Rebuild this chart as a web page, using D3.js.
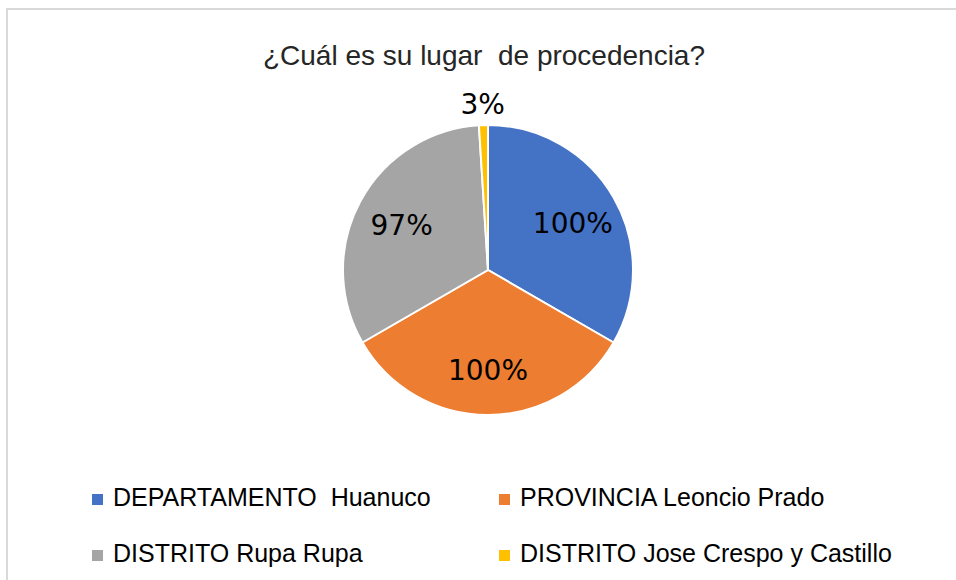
<!DOCTYPE html>
<html>
<head>
<meta charset="utf-8">
<script src="https://cdn.jsdelivr.net/npm/d3@7"></script>
<style>
  html, body { margin: 0; padding: 0; background: #fff; }
  svg { display: block; }
  text { white-space: pre; }
</style>
</head>
<body>
<div id="chart"></div>
<script>
const categories = ["DEPARTAMENTO  Huanuco", "PROVINCIA Leoncio Prado", "DISTRITO Rupa Rupa", "DISTRITO Jose Crespo y Castillo"]
const values = [100, 100, 97, 3]
const labels = ["100%", "100%", "97%", "3%"]
const colors = ["#4472C4", "#ED7D31", "#A5A5A5", "#FFC000"]
const title = "¿Cuál es su lugar  de procedencia?"

const width = 956
const height = 580
const cx = 488, cy = 270, radius = 145

const svg = d3.select('#chart').append('svg')
    .attr('width', width)
    .attr('height', height)

// chart frame (only top/left edges visible in the crop)
svg.append('rect')
    .attr('x', 7).attr('y', 9)
    .attr('width', width + 20).attr('height', height + 20)
    .attr('fill', '#fff')
    .attr('stroke', '#d9d9d9')
    .attr('stroke-width', 2)

svg.append('text')
    .attr('x', 484).attr('y', 65)
    .attr('text-anchor', 'middle')
    .style('font-family', 'Liberation Sans, Arial, sans-serif')
    .style('font-size', '28px')
    .attr('fill', '#262626')
    .text(title)

const pie = d3.pie().sort(null).value(d => d)
const arcs = pie(values)
const arc = d3.arc().innerRadius(0).outerRadius(radius)
const labelArc = d3.arc().innerRadius(98).outerRadius(98)
const outArc = d3.arc().innerRadius(168).outerRadius(168)

const g = svg.append('g')
    .attr('transform', 'translate(' + cx + ',' + cy + ')')

g.selectAll('path')
    .data(arcs)
    .join('path')
    .attr('d', arc)
    .attr('fill', (d, i) => colors[i])
    .attr('stroke', '#fff')
    .attr('stroke-width', 2)

// small slices get their label outside
g.selectAll('text.lbl')
    .data(arcs)
    .join('text')
    .attr('class', 'lbl')
    .attr('transform', d => {
        const small = (d.endAngle - d.startAngle) < 0.3
        return 'translate(' + (small ? outArc : labelArc).centroid(d) + ')'
    })
    .attr('text-anchor', 'middle')
    .attr('dy', '0.42em')
    .style('font-family', 'DejaVu Sans, sans-serif')
    .style('font-size', '28px')
    .attr('fill', '#000')
    .text((d, i) => labels[i])

// legend 2 columns
const legend = svg.append('g')
const cols = [92, 499]
const rows = [506, 562]
categories.forEach((c, i) => {
    const x = cols[i % 2], y = rows[Math.floor(i / 2)]
    legend.append('rect')
        .attr('x', x).attr('y', y - 12)
        .attr('width', 11).attr('height', 11)
        .attr('fill', colors[i])
    legend.append('text')
        .attr('x', x + 21).attr('y', y)
        .style('font-family', 'Liberation Sans, Arial, sans-serif')
        .style('font-size', '25px')
        .attr('fill', '#000')
        .text(c)
})
</script>
</body>
</html>
